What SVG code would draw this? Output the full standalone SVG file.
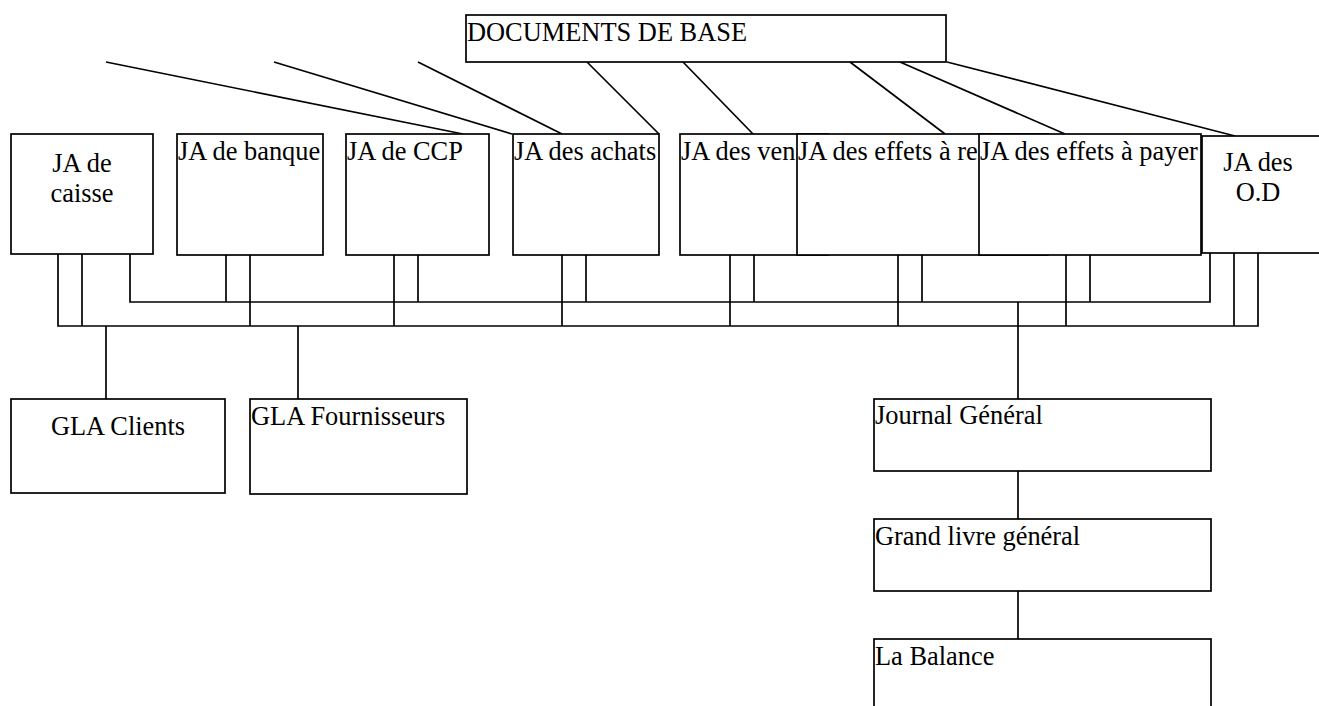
<svg xmlns="http://www.w3.org/2000/svg" width="1319" height="706" viewBox="0 0 1319 706">
<style>
.box{fill:#fff;stroke:#000;stroke-width:1.7}
.ln{fill:none;stroke:#000;stroke-width:1.7}
text{font-family:"Liberation Serif","Times New Roman",serif;font-size:26.4px;fill:#000}
.c{text-anchor:middle}
</style>
<rect width="1319" height="706" fill="#fff"/>
<g id="connectors" class="ln">
<line x1="106" y1="62" x2="463" y2="134"/>
<line x1="274" y1="62" x2="512" y2="134"/>
<line x1="418" y1="62" x2="562" y2="134"/>
<line x1="587" y1="62" x2="659" y2="134"/>
<line x1="683" y1="62" x2="753" y2="134"/>
<line x1="850" y1="62" x2="945" y2="134"/>
<line x1="900" y1="62" x2="1065" y2="134"/>
<line x1="947" y1="62" x2="1235" y2="136"/>
<polyline points="130,254 130,302 1210,302 1210,253"/>
<polyline points="58,254 58,326 1258,326 1258,253"/>
<line x1="82" y1="254" x2="82" y2="326"/>
<line x1="226" y1="255" x2="226" y2="302"/>
<line x1="250" y1="255" x2="250" y2="326"/>
<line x1="394" y1="255" x2="394" y2="326"/>
<line x1="418" y1="255" x2="418" y2="302"/>
<line x1="562" y1="255" x2="562" y2="326"/>
<line x1="586" y1="255" x2="586" y2="302"/>
<line x1="730" y1="255" x2="730" y2="326"/>
<line x1="754" y1="255" x2="754" y2="302"/>
<line x1="898" y1="255" x2="898" y2="326"/>
<line x1="922" y1="255" x2="922" y2="302"/>
<line x1="1066" y1="255" x2="1066" y2="326"/>
<line x1="1090" y1="255" x2="1090" y2="302"/>
<line x1="1234" y1="253" x2="1234" y2="326"/>
<line x1="106" y1="326" x2="106" y2="399"/>
<line x1="298" y1="326" x2="298" y2="399"/>
<line x1="1018" y1="302" x2="1018" y2="399"/>
<line x1="1018" y1="471" x2="1018" y2="519"/>
<line x1="1018" y1="591" x2="1018" y2="639"/>
</g>
<g id="docs"><rect class="box" x="466" y="15" width="480" height="47"/><text x="467" y="41">DOCUMENTS DE BASE</text></g>
<g id="ja-caisse"><rect class="box" x="11" y="134" width="142" height="120"/><text class="c" x="82" y="172">JA de</text><text class="c" x="82" y="202">caisse</text></g>
<g id="ja-banque"><rect class="box" x="177" y="134" width="146" height="121"/><text x="178" y="160">JA de banque</text></g>
<g id="ja-ccp"><rect class="box" x="346" y="134" width="143" height="121"/><text x="347" y="160">JA de CCP</text></g>
<g id="ja-achats"><rect class="box" x="513" y="134" width="146" height="121"/><text x="514" y="160">JA des achats</text></g>
<g id="ja-ventes"><rect class="box" x="680" y="134" width="148" height="121"/><text x="681" y="160">JA des ven</text></g>
<g id="ja-recevoir"><rect class="box" x="797" y="134" width="251" height="121"/><text x="798" y="160">JA des effets à re</text></g>
<g id="ja-payer"><rect class="box" x="979" y="134" width="222" height="121"/><text x="980" y="160">JA des effets à payer</text></g>
<g id="ja-od"><rect class="box" x="1202" y="136" width="130" height="117"/><text class="c" x="1258" y="171">JA des</text><text class="c" x="1258" y="201">O.D</text></g>
<g id="gla-clients"><rect class="box" x="11" y="399" width="214" height="94"/><text class="c" x="118" y="435">GLA Clients</text></g>
<g id="gla-fournisseurs"><rect class="box" x="250" y="399" width="217" height="95"/><text x="251" y="425">GLA Fournisseurs</text></g>
<g id="journal-general"><rect class="box" x="874" y="399" width="337" height="72"/><text x="875" y="424">Journal Général</text></g>
<g id="grand-livre"><rect class="box" x="874" y="519" width="337" height="72"/><text x="875" y="545">Grand livre général</text></g>
<g id="balance"><rect class="box" x="874" y="639" width="337" height="80"/><text x="875" y="665">La Balance</text></g>
</svg>
